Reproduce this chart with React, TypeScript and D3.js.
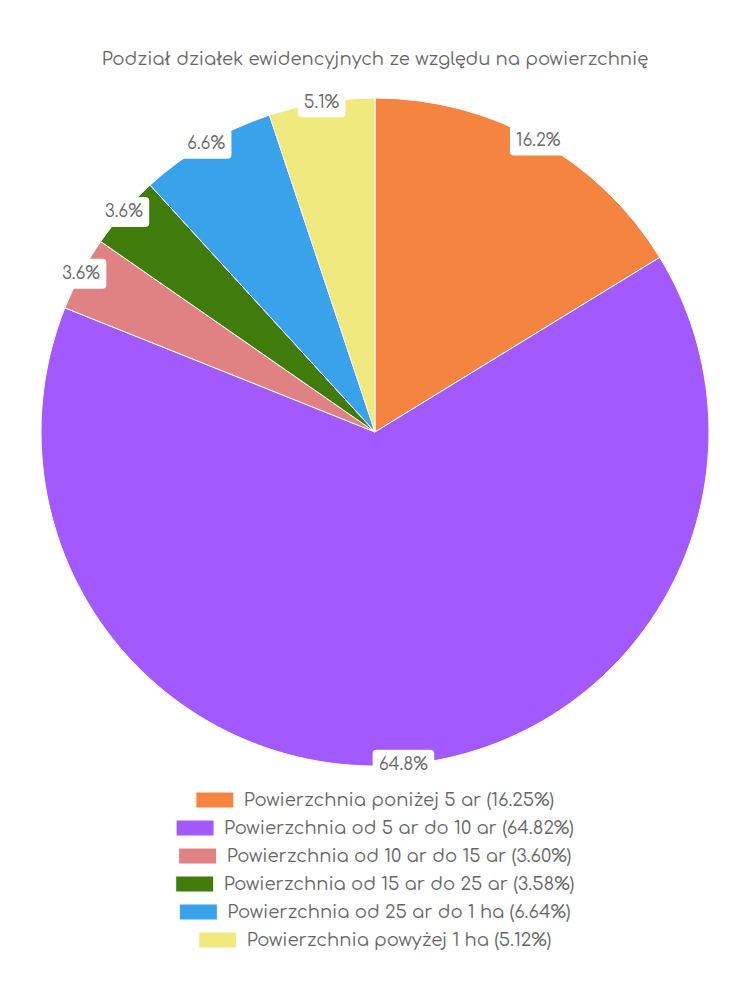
import { useRef, useEffect } from 'react';
import * as d3 from 'd3';

const TITLE = 'Podział działek ewidencyjnych ze względu na powierzchnię';
const CATEGORIES = [
  'Powierzchnia poniżej 5 ar',
  'Powierzchnia od 5 ar do 10 ar',
  'Powierzchnia od 10 ar do 15 ar',
  'Powierzchnia od 15 ar do 25 ar',
  'Powierzchnia od 25 ar do 1 ha',
  'Powierzchnia powyżej 1 ha',
];
const VALUES = [16.246, 64.82, 3.6, 3.58, 6.64, 5.12];
const COLORS = ['#F4843F', '#A259FE', '#E08283', '#3F7C0C', '#38A2EA', '#F0EA7E'];

const FONT = "Comfortaa, 'DejaVu Sans', sans-serif";

export default function App() {
  const svgRef = useRef<SVGSVGElement>(null);

  useEffect(() => {
    if (!svgRef.current) return;
    const width = 750;
    const height = 1000;
    const cx = 375;
    const cy = 432;
    const radius = 334;

    const svg = d3.select(svgRef.current);
    svg.selectAll('*').remove();

    svg.append('rect').attr('width', width).attr('height', height).attr('fill', 'white');

    // Title
    svg.append('text')
      .attr('x', width / 2).attr('y', 60)
      .attr('text-anchor', 'middle').attr('dominant-baseline', 'middle')
      .attr('fill', '#666').attr('font-size', '18px').attr('font-family', FONT)
      .text(TITLE);

    const data = VALUES.map((v, i) => ({ v, i }));
    const pie = d3.pie<{ v: number; i: number }>().value(d => d.v).sort(null);
    const arcs = pie(data);
    const arc = d3.arc<d3.PieArcDatum<{ v: number; i: number }>>().innerRadius(0).outerRadius(radius);

    const g = svg.append('g').attr('transform', `translate(${cx},${cy})`);
    g.selectAll('path')
      .data(arcs)
      .join('path')
      .attr('d', arc)
      .attr('fill', d => COLORS[d.data.i])
      .attr('stroke', 'white')
      .attr('stroke-width', 1);

    // Labels at outer edge
    arcs.forEach(a => {
      const mid = (a.startAngle + a.endAngle) / 2;
      const lx = Math.sin(mid) * radius;
      const ly = -Math.cos(mid) * radius;
      const label = `${a.data.v.toFixed(1)}%`;
      const lg = g.append('g').attr('transform', `translate(${lx},${ly})`);
      const t = lg.append('text')
        .attr('text-anchor', 'middle').attr('dominant-baseline', 'central')
        .attr('fill', '#666').attr('font-size', '17px').attr('font-family', FONT)
        .text(label);
      const bb = (t.node() as SVGTextElement).getBBox();
      lg.insert('rect', 'text')
        .attr('x', bb.x - 6).attr('y', -15)
        .attr('width', bb.width + 12).attr('height', 30)
        .attr('rx', 4).attr('fill', 'white');
    });

    // Legend
    const rowH = 28;
    const top = 800;
    CATEGORIES.forEach((c, i) => {
      const y = top + i * rowH;
      const row = svg.append('g');
      const t = row.append('text')
        .attr('y', y).attr('dominant-baseline', 'central')
        .attr('fill', '#666').attr('font-size', '18px').attr('font-family', FONT)
        .text(`${c} (${VALUES[i].toFixed(2)}%)`);
      const tw = (t.node() as SVGTextElement).getComputedTextLength();
      const boxW = 38;
      const total = boxW + 10 + tw;
      const x0 = width / 2 - total / 2;
      row.append('rect')
        .attr('x', x0).attr('y', y - 8).attr('width', boxW).attr('height', 16)
        .attr('fill', COLORS[i]).attr('stroke', 'white').attr('stroke-width', 1);
      t.attr('x', x0 + boxW + 10);
    });
  }, []);

  return (
    <svg ref={svgRef} width={750} height={1000}
      style={{ position: 'absolute', left: 0, top: 0, display: 'block' }} />
  );
}
